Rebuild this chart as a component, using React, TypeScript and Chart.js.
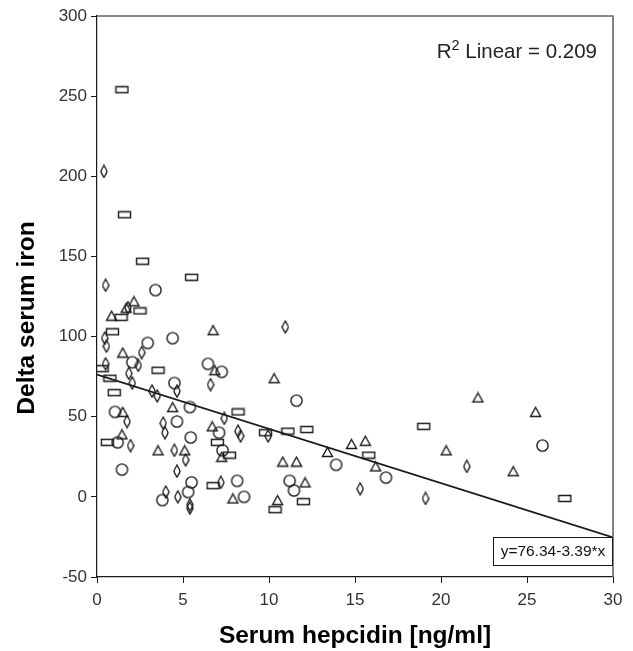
import { useEffect, useRef } from 'react';
import { Chart, registerables } from 'chart.js';

Chart.register(...registerables);

// Marker groups: [hepcidin, delta iron]
const rectPoints: [number, number][] = [
  [1.45, 254], [1.6, 176], [2.65, 147], [5.5, 137], [2.5, 116], [1.4, 112],
  [0.9, 103], [3.55, 79], [0.3, 80], [0.75, 74], [1.0, 65], [8.2, 53],
  [0.6, 34], [7.0, 34], [7.7, 26], [6.75, 7], [9.8, 40], [11.1, 41],
  [12.2, 42], [15.8, 26], [12.0, -3], [10.35, -8], [19.0, 44], [27.2, -1],
];
const trianglePoints: [number, number][] = [
  [2.15, 122], [0.85, 113], [1.7, 118], [6.75, 104], [1.5, 90], [6.85, 79],
  [1.5, 53], [4.4, 56], [1.45, 39], [3.55, 29], [5.1, 29], [6.7, 44],
  [7.25, 25], [7.9, -1], [10.3, 74], [10.8, 22], [11.6, 22], [12.1, 9],
  [10.5, -2], [13.4, 28], [14.8, 33], [15.6, 35], [16.2, 19], [22.15, 62],
  [25.5, 53], [20.3, 29], [24.2, 16],
];
const circlePoints: [number, number][] = [
  [3.4, 129], [2.95, 96], [4.4, 99], [2.05, 84], [6.45, 83], [7.25, 78],
  [4.5, 71], [1.05, 53], [4.65, 47], [5.4, 56], [7.1, 40], [5.45, 37],
  [1.2, 34], [7.3, 29], [1.45, 17], [5.5, 9], [5.3, 3], [3.8, -2],
  [8.15, 10], [8.55, 0], [11.6, 60], [13.9, 20], [11.2, 10], [11.45, 4],
  [16.8, 12], [25.9, 32],
];
const diamondPoints: [number, number][] = [
  [0.4, 203], [0.5, 132], [1.8, 118], [0.45, 99], [0.55, 94], [2.6, 90],
  [2.4, 82], [0.5, 83], [1.85, 77], [2.05, 71], [3.2, 66], [3.5, 63],
  [4.65, 66], [6.6, 70], [1.75, 47], [3.85, 46], [3.95, 40], [1.95, 32],
  [4.5, 29], [5.15, 23], [4.65, 16], [4.0, 3], [4.7, 0], [5.4, -5],
  [5.4, -7], [7.4, 49], [8.2, 41], [8.35, 38], [7.2, 9], [10.95, 106],
  [9.95, 38], [15.3, 5], [19.1, -1], [21.5, 19],
];

const fitIntercept = 76.34;
const fitSlope = -3.39;
const fitRange = [0, 30];
const rSquaredText = '0.209';
const equationText = 'y=76.34-3.39*x';

const xTitle = 'Serum hepcidin [ng/ml]';
const yTitle = 'Delta serum iron';

const FONT = "'Liberation Sans', Arial, sans-serif";
const INK = '#1a1a1a';

function makeMarker(shape: string): HTMLCanvasElement {
  const c = document.createElement('canvas');
  const dims: Record<string, [number, number]> = {
    circle: [15, 15],
    triangle: [13, 12],
    rect: [15, 9],
    diamond: [8, 14],
  };
  const [w, h] = dims[shape];
  c.width = w;
  c.height = h;
  const ctx = c.getContext('2d')!;
  ctx.strokeStyle = INK;
  ctx.lineWidth = 1.4;
  ctx.beginPath();
  if (shape === 'circle') {
    ctx.arc(w / 2, h / 2, 5.6, 0, Math.PI * 2);
  } else if (shape === 'triangle') {
    ctx.moveTo(w / 2, 1.5);
    ctx.lineTo(w - 1.5, h - 1.5);
    ctx.lineTo(1.5, h - 1.5);
    ctx.closePath();
  } else if (shape === 'rect') {
    ctx.rect(1.5, 1.5, w - 3, h - 3);
  } else {
    ctx.moveTo(w / 2, 1);
    ctx.quadraticCurveTo(w - 1, h / 2 - 1, w - 1, h / 2);
    ctx.quadraticCurveTo(w - 1, h / 2 + 1, w / 2, h - 1);
    ctx.quadraticCurveTo(1, h / 2 + 1, 1, h / 2);
    ctx.quadraticCurveTo(1, h / 2 - 1, w / 2, 1);
    ctx.closePath();
  }
  ctx.stroke();
  return c;
}

const toXY = (pts: [number, number][]) => pts.map(([x, y]) => ({ x, y }));

export default function App() {
  const ref = useRef<HTMLCanvasElement | null>(null);

  useEffect(() => {
    if (!ref.current) return;

    const decorPlugin = {
      id: 'decor',
      afterDraw(chart: any) {
        const { ctx, chartArea } = chart;
        const { left, right, top, bottom } = chartArea;
        ctx.save();
        // frame top & right
        ctx.strokeStyle = '#666';
        ctx.lineWidth = 1.6;
        ctx.beginPath();
        ctx.moveTo(left, top);
        ctx.lineTo(right, top);
        ctx.lineTo(right, bottom);
        ctx.stroke();

        // R² label
        ctx.fillStyle = '#222';
        ctx.textBaseline = 'alphabetic';
        ctx.textAlign = 'right';
        ctx.font = `20.5px ${FONT}`;
        const rest = ` Linear = ${rSquaredText}`;
        const xr = right - 16;
        const base = top + 42;
        ctx.fillText(rest, xr, base);
        const wRest = ctx.measureText(rest).width;
        ctx.font = `14.5px ${FONT}`;
        ctx.fillText('2', xr - wRest, base - 8);
        const w2 = ctx.measureText('2').width;
        ctx.font = `20.5px ${FONT}`;
        ctx.fillText('R', xr - wRest - w2, base);

        // equation box
        const bx = right - 120;
        const by = bottom - 40;
        ctx.fillStyle = '#fff';
        ctx.fillRect(bx, by, 120, 29);
        ctx.strokeStyle = INK;
        ctx.lineWidth = 1;
        ctx.strokeRect(bx + 0.5, by + 0.5, 119, 28);
        ctx.fillStyle = '#111';
        ctx.font = `15.5px ${FONT}`;
        ctx.textAlign = 'center';
        ctx.textBaseline = 'middle';
        ctx.fillText(equationText, bx + 60, by + 15);

        // y title
        ctx.translate(27, 318);
        ctx.rotate(-Math.PI / 2);
        ctx.font = `bold 24.5px ${FONT}`;
        ctx.fillStyle = '#000';
        ctx.textAlign = 'center';
        ctx.textBaseline = 'middle';
        ctx.fillText(yTitle, 0, 0);
        ctx.restore();
      },
    };

    const scatterStyle = (pts: [number, number][], shape: string, label: string) => ({
      type: 'scatter' as const,
      label,
      data: toXY(pts),
      pointStyle: makeMarker(shape),
      pointRadius: 6,
      borderColor: INK,
      backgroundColor: 'rgba(0,0,0,0)',
    });

    const chart = new Chart(ref.current, {
      type: 'scatter',
      data: {
        datasets: [
          {
            type: 'line' as const,
            label: 'fit',
            data: fitRange.map((x) => ({ x, y: fitIntercept + fitSlope * x })),
            borderColor: INK,
            borderWidth: 1.8,
            pointRadius: 0,
            fill: false,
          } as any,
          scatterStyle(rectPoints, 'rect', 'rect'),
          scatterStyle(trianglePoints, 'triangle', 'triangle'),
          scatterStyle(circlePoints, 'circle', 'circle'),
          scatterStyle(diamondPoints, 'diamond', 'diamond'),
        ],
      },
      options: {
        animation: false,
        responsive: false,
        events: [],
        layout: { padding: { top: 16, right: 20, left: 0, bottom: 0 } },
        plugins: {
          legend: { display: false },
          tooltip: { enabled: false },
        },
        scales: {
          x: {
            type: 'linear',
            min: 0,
            max: 30,
            ticks: {
              stepSize: 5,
              color: '#333',
              font: { family: FONT, size: 17 },
              padding: 7,
            },
            grid: {
              drawOnChartArea: false,
              drawTicks: true,
              tickLength: 6,
              color: INK,
            },
            border: { display: true, color: INK, width: 1.2 },
            title: {
              display: true,
              text: xTitle,
              color: '#000',
              font: { family: FONT, size: 24.5, weight: 'bold' },
              padding: { top: 0, bottom: 0 },
            },
            afterFit(scale: any) {
              scale.height = 74;
            },
          },
          y: {
            type: 'linear',
            min: -50,
            max: 300,
            ticks: {
              stepSize: 50,
              color: '#333',
              font: { family: FONT, size: 17 },
              padding: 4,
            },
            grid: {
              drawOnChartArea: false,
              drawTicks: true,
              tickLength: 6,
              color: INK,
            },
            border: { display: true, color: INK, width: 1.2 },
            afterFit(scale: any) {
              scale.width = 97;
            },
          },
        },
      } as any,
      plugins: [decorPlugin],
    });

    return () => chart.destroy();
  }, []);

  return (
    <div style={{ position: 'absolute', left: 0, top: 0, width: 633, height: 651, background: '#fff' }}>
      <canvas ref={ref} width={633} height={651} />
    </div>
  );
}
